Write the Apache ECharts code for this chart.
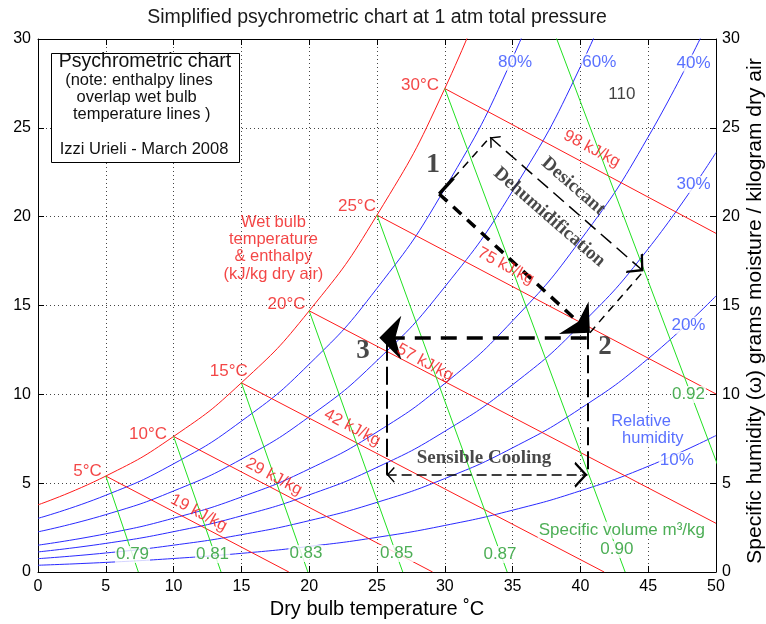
<!DOCTYPE html>
<html>
<head>
<meta charset="utf-8">
<script src="https://cdn.jsdelivr.net/npm/echarts@6.0.0/dist/echarts.min.js"></script>
<style>html,body{margin:0;padding:0;background:#fff;}#chart{width:766px;height:624px;}</style>
</head>
<body>
<div id="chart"></div>
<script>
// ---------------- data ----------------
// dry bulb temperatures (deg C) at which the humidity curves are read
const temps = [0, 5, 10, 15, 20, 25, 30, 35, 40, 45, 50];
// specific humidity (g/kg) of the saturation curve and relative humidity curves
const saturation = [3.78, 5.40, 7.63, 10.65, 14.70, 20.09, 27.21, 36.58];
const rh80 = [3.02, 4.32, 6.09, 8.49, 11.70, 15.97, 21.58, 28.93, 38.51];
const rh60 = [2.26, 3.23, 4.56, 6.35, 8.74, 11.90, 16.05, 21.45, 28.44, 37.47];
const rh40 = [1.51, 2.15, 3.03, 4.22, 5.80, 7.88, 10.61, 14.14, 18.68, 24.49, 31.88];
const rh30 = [1.13, 1.61, 2.27, 3.16, 4.34, 5.89, 7.92, 10.54, 13.90, 18.19, 23.61];
const rh20 = [0.75, 1.07, 1.51, 2.10, 2.89, 3.92, 5.26, 6.99, 9.20, 12.01, 15.54];
const rh10 = [0.38, 0.54, 0.76, 1.05, 1.44, 1.95, 2.62, 3.48, 4.57, 5.95, 7.68];
const rhLabels = ['80%', '60%', '40%', '30%', '20%', '10%'];

// wet bulb / enthalpy lines: start on saturation curve, end point
const wetBulbTemps = [5, 10, 15, 20, 25, 30];
const enthalpyEndT = [18.5, 29.1, 41.75, 50, 50, 50];
const enthalpyEndW = [0, 0, 0, 2.74, 10.02, 19.06];
const enthalpyLabels = ['19 kJ/kg', '29 kJ/kg', '42 kJ/kg', '57 kJ/kg', '75 kJ/kg', '98 kJ/kg'];

// specific volume lines: start on saturation curve, end on w = 0
const volumeStartTemps = [5, 10, 15, 20, 25, 30, 35];
const volumeEndT = [7.4, 13.5, 19.9, 26.9, 34.6, 43.3, 53.1];
const volumeLabels = ['0.79', '0.81', '0.83', '0.85', '0.87', '0.90', '0.92'];

// process states (T, w)
const state1 = [29.59, 21.28];
const state2 = [40.7, 13.47];
const state3 = [25.17, 13.18];
const state2Left = [40.47, 13.18];
const desiccantTop = [33.34, 24.47];
const desiccantEnd = [44.65, 16.93];
const state1Corner = [30.64, 22.17];
const coolingLeftT = 25.71;
const coolingRightT = 40.52;
const coolingTopW = [12.9, 13.55];
const coolingW = 5.47;

// ---------------- styling ----------------
const S = 'Liberation Sans', SERIF = 'Liberation Serif';
const RED = '#f01818', BLUE = '#2f4cff', GREEN = '#1f9a2a';
const LRED = '#ff1a1a', LBLUE = '#2a2aff', LGREEN = '#22e022';

const series = [];
const pairs = ws => ws.map((w, i) => [temps[i], w]);
const satAt = t => saturation[temps.indexOf(t)];

[[saturation, LRED], [rh80, LBLUE], [rh60, LBLUE], [rh40, LBLUE], [rh30, LBLUE], [rh20, LBLUE], [rh10, LBLUE]]
  .forEach(([ws, c]) => series.push({
    type: 'line', data: pairs(ws), symbol: 'none', smooth: 0.5,
    clip: true, silent: true, z: 2, lineStyle: { color: c, width: 1 }
  }));

wetBulbTemps.forEach((t, i) => series.push({
  type: 'line', data: [[t, satAt(t)], [enthalpyEndT[i], enthalpyEndW[i]]], symbol: 'none',
  clip: true, silent: true, z: 2, lineStyle: { color: LRED, width: 1 }
}));

volumeStartTemps.forEach((t, i) => series.push({
  type: 'line', data: [[t, satAt(t)], [volumeEndT[i], 0]], symbol: 'none',
  clip: true, silent: true, z: 2, lineStyle: { color: LGREEN, width: 1 }
}));

// annotation arrows
const CHEV = 'path://M0,0L8,12L6.6,13L0,3.2L-6.6,13L-8,12Z M0,-13L0.01,-13Z';
const DART = 'path://M0,0L8,22L0,16L-8,22Z M0,-22L0.01,-22Z';
function arrows(list, width, dash, sym, size) {
  return {
    type: 'lines', coordinateSystem: 'cartesian2d', xAxisIndex: 0, yAxisIndex: 0,
    polyline: false, silent: true, z: 15, symbol: sym, symbolSize: size,
    lineStyle: { color: '#000', width: width, type: dash, opacity: 1, curveness: 0 },
    data: list.map(c => ({ coords: c }))
  };
}
series.push(arrows([[state1, state2]], 3.5, [11, 8], ['none', DART], [16, 44]));
series.push(arrows([[state2Left, state3]], 3.5, [16, 10], ['none', DART], [16, 44]));
series.push(arrows([[state1, state1Corner]], 3.5, 'solid', ['none', 'none'], 1));
series.push(arrows([[state1Corner, desiccantTop], [state2, desiccantEnd]], 1.5, [8, 6], ['none', 'none'], 1));
series.push(arrows([[desiccantTop, desiccantEnd]], 1.5, [14, 7], [CHEV, CHEV], [16, 26]));
series.push(arrows([[[coolingLeftT, coolingTopW[0]], [coolingLeftT, coolingW]],
                    [[coolingRightT, coolingTopW[1]], [coolingRightT, coolingW]]], 2, [18, 6], ['none', 'none'], 1));
series.push(arrows([[[coolingLeftT, coolingW], [coolingRightT, coolingW]]], 1.5, [10, 5], [CHEV, CHEV], [16, 26]));

// text labels anchored in data coordinates
const textLabels = [
  { t: rhLabels[0], at: [35.18, 28.71], c: BLUE, bg: 1 },
  { t: rhLabels[1], at: [41.40, 28.71], c: BLUE, bg: 1 },
  { t: rhLabels[2], at: [48.34, 28.65], c: BLUE, bg: 1 },
  { t: rhLabels[3], at: [48.34, 21.81], c: BLUE, bg: 1 },
  { t: rhLabels[4], at: [47.97, 13.89], c: BLUE, bg: 1 },
  { t: rhLabels[5], at: [47.11, 6.29], c: BLUE, bg: 1 },
  { t: 'Relative', at: [44.47, 8.49], c: BLUE, s: 16.5, bg: 1 },
  { t: 'humidity', at: [45.34, 7.50], c: BLUE, s: 16.5, bg: 1 },
  { t: '110', at: [43.06, 26.87], c: '#111' },
  { t: volumeLabels[0], at: [6.97, 0.98], c: GREEN, bg: 1 },
  { t: volumeLabels[1], at: [12.87, 0.98], c: GREEN, bg: 1 },
  { t: volumeLabels[2], at: [19.76, 1.04], c: GREEN, bg: 1 },
  { t: volumeLabels[3], at: [26.45, 1.04], c: GREEN, bg: 1 },
  { t: volumeLabels[4], at: [34.07, 0.98], c: GREEN, bg: 1 },
  { t: volumeLabels[5], at: [42.69, 1.27], c: GREEN, bg: 1 },
  { t: volumeLabels[6], at: [47.97, 9.99], c: GREEN, bg: 1 },
  { t: 'Specific volume m³/kg', at: [43.06, 2.35], c: GREEN, bg: 1 },
  { t: wetBulbTemps[5] + '°C', at: [28.17, 27.38], c: RED },
  { t: wetBulbTemps[4] + '°C', at: [23.52, 20.57], c: RED },
  { t: wetBulbTemps[3] + '°C', at: [18.33, 15.05], c: RED },
  { t: wetBulbTemps[2] + '°C', at: [14.07, 11.30], c: RED },
  { t: wetBulbTemps[1] + '°C', at: [8.12, 7.74], c: RED },
  { t: wetBulbTemps[0] + '°C', at: [3.65, 5.67], c: RED },
  { t: 'Wet bulb\ntemperature\n& enthalpy\n(kJ/kg dry air)', at: [17.36, 18.23], c: RED, s: 16.5, lh: 17.3 },
  { t: enthalpyLabels[5], at: [40.84, 23.82], c: RED, r: -28, s: 16.5 },
  { t: enthalpyLabels[4], at: [34.50, 17.21], c: RED, r: -28, s: 16.5 },
  { t: enthalpyLabels[3], at: [28.54, 11.79], c: RED, r: -28, s: 16.5 },
  { t: enthalpyLabels[2], at: [23.17, 8.12], c: RED, r: -28, s: 16.5 },
  { t: enthalpyLabels[1], at: [17.40, 5.36], c: RED, r: -28, s: 16.5 },
  { t: enthalpyLabels[0], at: [11.86, 3.33], c: RED, r: -28, s: 16.5 },
  { t: '1', at: [29.13, 22.93], c: '#1a1a1a', f: SERIF, w: 'bold', s: 28 },
  { t: '2', at: [41.82, 12.69], c: '#1a1a1a', f: SERIF, w: 'bold', s: 27 },
  { t: '3', at: [23.96, 12.41], c: '#1a1a1a', f: SERIF, w: 'bold', s: 27 },
  { t: 'Desiccant', at: [39.48, 21.71], c: '#1a1a1a', f: SERIF, w: 'bold', s: 19, r: -41 },
  { t: 'Dehumidification', at: [37.71, 19.97], c: '#1a1a1a', f: SERIF, w: 'bold', s: 19, r: -41 },
  { t: 'Sensible Cooling', at: [32.89, 6.43], c: '#1a1a1a', f: SERIF, w: 'bold', s: 19 }
];
series.push({
  type: 'scatter', symbolSize: 0, silent: true, z: 20, clip: false,
  data: textLabels.map(l => ({
    value: l.at,
    label: {
      show: true, position: 'inside', formatter: l.t, color: l.c, fontSize: l.s || 17,
      fontFamily: l.f || S, fontWeight: l.w || 'normal', rotate: l.r || 0,
      lineHeight: l.lh || undefined, align: 'center', verticalAlign: 'middle',
      backgroundColor: l.bg ? '#fff' : 'transparent', padding: l.bg ? [0, 1] : 0
    }
  }))
});

const axisCommon = {
  type: 'value',
  axisLine: { show: true, onZero: false, lineStyle: { color: '#000', width: 1 } },
  axisTick: { show: true, inside: true, length: 6, lineStyle: { color: '#000' } },
  axisLabel: { color: '#000', fontSize: 16, fontFamily: S }
};
const dotted = { show: true, lineStyle: { color: '#444', type: [1, 3], width: 1 } };

const legendLines = [
  { t: 'Psychrometric chart', x: 145, y: 62, s: 19.5 },
  { t: '(note: enthalpy lines', x: 139, y: 80, s: 16.5 },
  { t: 'overlap wet bulb', x: 136.7, y: 97, s: 16.5 },
  { t: 'temperature lines )', x: 141.7, y: 114.3, s: 16.5 },
  { t: 'Izzi Urieli - March 2008', x: 144, y: 149.3, s: 16.5 }
];

const option = {
  animation: false,
  backgroundColor: '#fff',
  textStyle: { fontFamily: S },
  grid: { left: 38, right: 50, top: 39, bottom: 52, containLabel: false, outerBoundsMode: 'none' },
  xAxis: [
    Object.assign({}, axisCommon, {
      min: 0, max: 50, interval: 5, position: 'bottom',
      axisLabel: Object.assign({}, axisCommon.axisLabel, { margin: 7 }),
      splitLine: dotted,
      name: 'Dry bulb temperature ˚C', nameLocation: 'middle', nameGap: 24,
      nameTextStyle: { fontSize: 20, color: '#000', fontFamily: S }
    }),
    Object.assign({}, axisCommon, {
      min: 0, max: 50, interval: 5, position: 'top',
      axisLabel: { show: false }, splitLine: { show: false }
    })
  ],
  yAxis: [
    Object.assign({}, axisCommon, {
      min: 0, max: 30, interval: 5, position: 'left',
      axisLabel: Object.assign({}, axisCommon.axisLabel, { margin: 7 }),
      splitLine: dotted
    }),
    Object.assign({}, axisCommon, {
      min: 0, max: 30, interval: 5, position: 'right',
      axisLabel: Object.assign({}, axisCommon.axisLabel, { margin: 6 }),
      splitLine: { show: false }
    })
  ],
  graphic: [
    { type: 'text', z: 50, x: 377, y: 18,
      style: { text: 'Simplified psychrometric chart at 1 atm total pressure', fill: '#1a1a1a',
               font: '19.5px "Liberation Sans"', align: 'center', verticalAlign: 'middle' } },
    { type: 'text', z: 50, x: 755, y: 311, rotation: Math.PI / 2,
      style: { text: 'Specific humidity (ω) grams moisture / kilogram dry air', fill: '#000',
               font: '21px "Liberation Sans"', align: 'center', verticalAlign: 'middle' } },
    { type: 'rect', z: 50, shape: { x: 51.5, y: 53.5, width: 188, height: 109 },
      style: { fill: '#fff', stroke: '#000', lineWidth: 1 } }
  ].concat(legendLines.map(l => ({
    type: 'text', z: 51, x: l.x, y: l.y,
    style: { text: l.t, fill: '#111', font: l.s + 'px "Liberation Sans"', align: 'center', verticalAlign: 'middle' }
  }))),
  series: series
};

const chart = echarts.init(document.getElementById('chart'));
chart.setOption(option);
</script>
</body>
</html>
